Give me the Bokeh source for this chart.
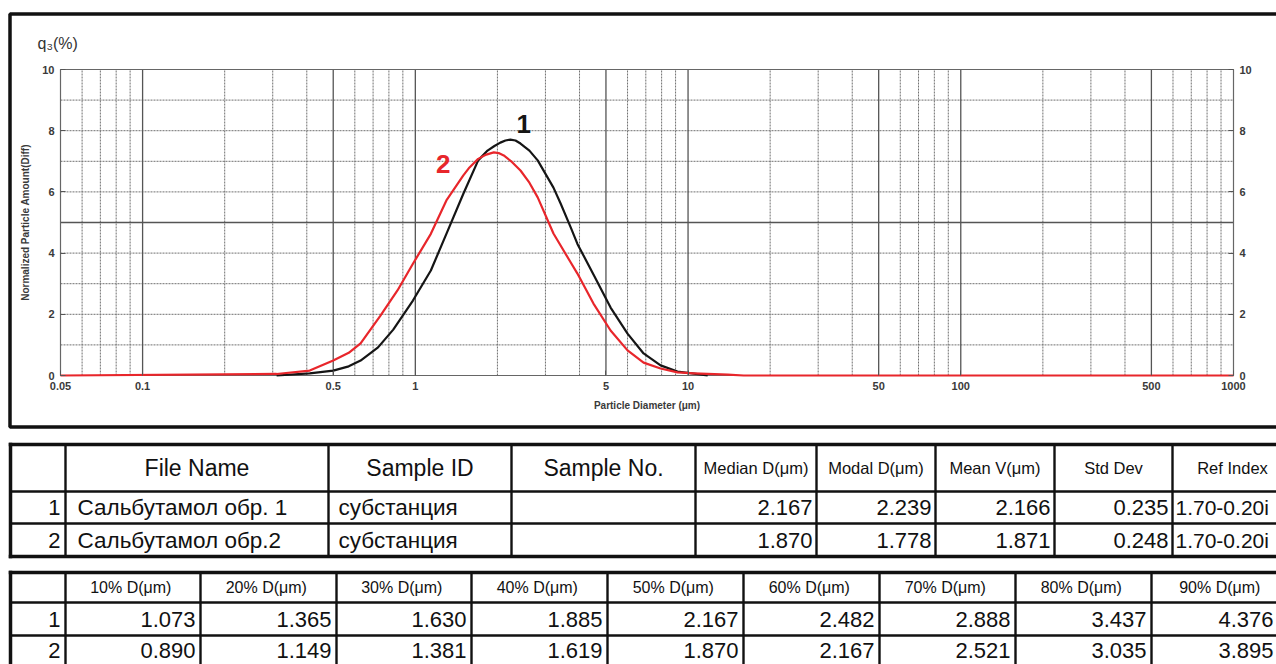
import math
from bokeh.plotting import figure
from bokeh.models import (Range1d, FixedTicker, LinearAxis, LogAxis, LinearScale)
from bokeh.core.properties import value
from bokeh.embed import file_html
from bokeh.resources import INLINE

FONT = "Liberation Sans"

# ---------------- data ----------------
# curve 1 (black): particle diameter (um) and q3 (%)
diam_1 = [0.31, 0.41, 0.50, 0.57, 0.63, 0.73, 0.83, 0.98, 1.14, 1.30, 1.50, 1.70,
          1.84, 1.95, 2.05, 2.14, 2.23, 2.33, 2.43, 2.62, 2.81, 3.21, 3.41, 3.71,
          3.93, 4.50, 5.20, 6.00, 6.87, 7.93, 9.15, 10.5, 11.8]
q3_1 = [0.00, 0.07, 0.16, 0.30, 0.49, 0.92, 1.50, 2.45, 3.43, 4.63, 5.94, 7.03,
        7.35, 7.50, 7.61, 7.68, 7.71, 7.68, 7.58, 7.35, 7.03, 6.14, 5.62, 4.85,
        4.30, 3.30, 2.22, 1.37, 0.72, 0.33, 0.13, 0.06, 0.00]

# curve 2 (red)
diam_2 = [0.05, 0.31, 0.41, 0.50, 0.57, 0.63, 0.745, 0.86, 0.98, 1.14, 1.30, 1.50,
          1.58, 1.70, 1.82, 1.94, 2.02, 2.11, 2.26, 2.43, 2.62, 2.81, 3.21, 3.71,
          3.93, 4.50, 5.20, 6.00, 6.87, 7.93, 9.15, 10.5, 14.0, 16.0, 1000]
q3_2 = [0.00, 0.05, 0.16, 0.49, 0.74, 1.05, 1.96, 2.78, 3.65, 4.63, 5.72, 6.54,
        6.80, 7.08, 7.22, 7.29, 7.27, 7.19, 6.98, 6.70, 6.30, 5.82, 4.64, 3.70,
        3.33, 2.35, 1.47, 0.82, 0.42, 0.23, 0.10, 0.07, 0.03, 0.00, 0.00]

curve_names = ["1", "2"]
curve_name_diam = [2.50, 1.266]
curve_name_q3 = [8.23, 6.92]

x_tick_values = [0.05, 0.1, 0.5, 1, 5, 10, 50, 100, 500, 1000]
x_tick_labels = ["0.05", "0.1", "0.5", "1", "5", "10", "50", "100", "500", "1000"]
y_tick_values = [0, 2, 4, 6, 8, 10]
x_major_grid = [0.1, 0.5, 1, 5, 10, 50, 100, 500]
x_minor_grid = [0.06, 0.07, 0.08, 0.09, 0.2, 0.3, 0.4, 0.6, 0.7, 0.8, 0.9,
                2, 3, 4, 6, 7, 8, 9, 20, 30, 40, 60, 70, 80, 90,
                200, 300, 400, 600, 700, 800, 900]
y_major_grid = [5]
y_minor_grid = [1, 2, 3, 4, 6, 7, 8, 9]

# table 1
t1_header = ["", "File Name", "Sample ID", "Sample No.", "Median D(μm)",
             "Modal D(μm)", "Mean V(μm)", "Std Dev", "Ref Index"]
sample_index = ["1", "2"]
file_names = ["Сальбутамол обр. 1", "Сальбутамол обр.2"]
sample_ids = ["субстанция", "субстанция"]
sample_nos = ["", ""]
median_d = ["2.167", "1.870"]
modal_d = ["2.239", "1.778"]
mean_v = ["2.166", "1.871"]
std_dev = ["0.235", "0.248"]
ref_index = ["1.70-0.20i", "1.70-0.20i"]

# table 2
t2_header = ["", "10%  D(μm)", "20%  D(μm)", "30%  D(μm)", "40%  D(μm)", "50%  D(μm)",
             "60%  D(μm)", "70%  D(μm)", "80%  D(μm)", "90%  D(μm)"]
pct_d_1 = ["1.073", "1.365", "1.630", "1.885", "2.167", "2.482", "2.888", "3.437", "4.376"]
pct_d_2 = ["0.890", "1.149", "1.381", "1.619", "1.870", "2.167", "2.521", "3.035", "3.895"]

# ---------------- layout (pixels) ----------------
W, H = 1276, 664
PL, PR, PT, PB = 60, 1233, 69, 375          # chart plot area
X0, X1 = x_tick_values[0], x_tick_values[-1]
Y0, Y1 = y_tick_values[0], y_tick_values[-1]
kx = (math.log10(X1) - math.log10(X0)) / (PR - PL)
x_lo = 10 ** (math.log10(X0) - kx * PL)
x_hi = 10 ** (math.log10(X1) + kx * (W - PR))
ky = (Y1 - Y0) / (PB - PT)
y_lo = Y0 - ky * (H - PB)
y_hi = Y1 + ky * PT

p = figure(width=W, height=H, x_axis_type="log", x_axis_location=None, y_axis_location=None,
           x_range=Range1d(x_lo, x_hi), y_range=Range1d(y_lo, y_hi),
           output_backend="svg", toolbar_location=None, min_border=0, title_location=None)
p.extra_x_ranges = {"px": Range1d(0, W)}
p.extra_y_ranges = {"py": Range1d(H, 0)}
p.extra_x_scales = {"px": LinearScale()}
p.extra_y_scales = {"py": LinearScale()}
p.outline_line_color = None
p.background_fill_color = "white"
p.border_fill_color = "white"
p.grid.visible = False

PX = dict(x_range_name="px", y_range_name="py")

# outer frame of the chart
p.quad(left=9.5, right=W + 30, top=13.5, bottom=426.5, fill_color=None,
       line_color="#111111", line_width=3.5, **PX)

# grid lines
p.segment(x0=x_minor_grid, y0=[Y0] * len(x_minor_grid), x1=x_minor_grid, y1=[Y1] * len(x_minor_grid),
          line_color="#707070", line_width=1, line_dash="2 1")
p.segment(x0=[X0] * len(y_minor_grid), y0=y_minor_grid, x1=[X1] * len(y_minor_grid), y1=y_minor_grid,
          line_color="#707070", line_width=1, line_dash="2 1")
p.segment(x0=x_major_grid, y0=[Y0] * len(x_major_grid), x1=x_major_grid, y1=[Y1] * len(x_major_grid),
          line_color="#555555", line_width=1.3)
p.segment(x0=[X0] * len(y_major_grid), y0=y_major_grid, x1=[X1] * len(y_major_grid), y1=y_major_grid,
          line_color="#555555", line_width=1.3)
p.quad(left=X0, right=X1, bottom=Y0, top=Y1, fill_color=None, line_color="#666666", line_width=1.2)

# curves
p.line(diam_1, q3_1, line_color="#151515", line_width=2.2, line_join="round")
p.line(diam_2, q3_2, line_color="#e8262b", line_width=2.2, line_join="round")
p.text(x=curve_name_diam, y=curve_name_q3, text=curve_names,
       text_color=["#151515", "#e8262b"], text_font=value(FONT), text_font_size="26px",
       text_font_style="bold", text_align="center", text_baseline="middle")

# axes (fixed on the plot-area edges)
xa = LogAxis(fixed_location=Y0, bounds=(X0, X1), ticker=FixedTicker(ticks=x_tick_values),
             axis_label="Particle Diameter (μm)")
xa.major_label_overrides = {v: s for v, s in zip(x_tick_values, x_tick_labels)}
ya = LinearAxis(fixed_location=X0, bounds=(Y0, Y1), ticker=FixedTicker(ticks=y_tick_values),
                axis_label="Normalized Particle Amount(Diff)")
ra = LinearAxis(fixed_location=X1, bounds=(Y0, Y1), ticker=FixedTicker(ticks=y_tick_values))
for ax in (xa, ya, ra):
    ax.axis_line_color = None
    ax.major_tick_in = 5
    ax.major_tick_out = 0
    ax.major_tick_line_color = "#555555"
    ax.minor_tick_line_color = None
    ax.major_label_text_font = FONT
    ax.major_label_text_font_size = "11px"
    ax.major_label_text_font_style = "bold"
    ax.major_label_text_color = "#3a3a3a"
    ax.major_label_standoff = 6
    ax.axis_label_text_font = FONT
    ax.axis_label_text_font_size = "10px"
    ax.axis_label_text_font_style = "bold"
    ax.axis_label_text_color = "#3a3a3a"
xa.axis_label_standoff = 7
ya.axis_label_standoff = 8
p.add_layout(xa, "below")
p.add_layout(ya, "left")
p.add_layout(ra, "right")

# y title
p.text(x=[37], y=[43], text=["q₃(%)"], text_font=value(FONT), text_font_size="16px",
       text_color="#333333", text_align="left", text_baseline="middle", **PX)

# ---------------- tables ----------------
t1_cols = [10, 65, 328, 511, 695, 816, 935, 1054, 1172, 1292]
t1_rows = [444, 491, 523, 556]
t2_cols = [10, 65, 200, 336, 471, 607, 743, 879, 1015, 1151, 1292]
t2_rows = [572, 602, 635, 668]

def grid_segments(cols, rows):
    thick, thin = ([], [], [], []), ([], [], [], [])
    for i, y in enumerate(rows):
        tgt = thick if i in (0, len(rows) - 1) else thin
        tgt[0].append(cols[0]); tgt[1].append(y); tgt[2].append(cols[-1]); tgt[3].append(y)
    for i, x in enumerate(cols):
        tgt = thick if i in (0, len(cols) - 1) else thin
        tgt[0].append(x); tgt[1].append(rows[0]); tgt[2].append(x); tgt[3].append(rows[-1])
    return thick, thin

for cols, rows in ((t1_cols, t1_rows), (t2_cols, t2_rows)):
    thick, thin = grid_segments(cols, rows)
    p.segment(*thin, line_color="#111111", line_width=2.4, **PX)
    p.segment(*thick, line_color="#111111", line_width=3.5, line_cap="square", **PX)

def mid(a, b):
    return (a + b) / 2

def txt(xs, ys, texts, align, size):
    p.text(x=xs, y=ys, text=texts, text_align=align, text_baseline="middle",
           text_font=value(FONT), text_font_size=size, text_color="#111111", **PX)

# table 1 header
h1y = mid(t1_rows[0], t1_rows[1])
big_idx = [1, 2, 3]
small_idx = [4, 5, 6, 7, 8]
txt([mid(t1_cols[i], t1_cols[i + 1]) for i in big_idx], [h1y] * 3,
    [t1_header[i] for i in big_idx], "center", "23px")
txt([mid(t1_cols[i], t1_cols[i + 1]) for i in small_idx], [h1y] * 5,
    [t1_header[i] for i in small_idx], "center", "16.5px")

# table 1 rows
r1y = [mid(t1_rows[1], t1_rows[2]), mid(t1_rows[2], t1_rows[3])]
txt([t1_cols[1] - 5] * 2, r1y, sample_index, "right", "22px")
txt([t1_cols[1] + 12] * 2, r1y, file_names, "left", "22.5px")
txt([t1_cols[2] + 10] * 2, r1y, sample_ids, "left", "22.5px")
txt([t1_cols[3] + 10] * 2, r1y, sample_nos, "left", "22.5px")
for ci, vals in zip((5, 6, 7, 8), (median_d, modal_d, mean_v, std_dev)):
    txt([t1_cols[ci] - 4] * 2, r1y, vals, "right", "22px")
txt([t1_cols[8] + 3] * 2, r1y, ref_index, "left", "21px")

# table 2
h2y = mid(t2_rows[0], t2_rows[1])
txt([mid(t2_cols[i], t2_cols[i + 1]) for i in range(1, 10)], [h2y] * 9,
    t2_header[1:], "center", "16px")
r2y = [mid(t2_rows[1], t2_rows[2]), mid(t2_rows[2], t2_rows[3]) - 2]
txt([t2_cols[1] - 5] * 2, r2y, sample_index, "right", "22px")
for j in range(8):
    txt([t2_cols[j + 2] - 5] * 2, r2y, [pct_d_1[j], pct_d_2[j]], "right", "22px")
txt([W - 3] * 2, r2y, [pct_d_1[8], pct_d_2[8]], "right", "22px")

open("out.html", "w").write(file_html(p, INLINE))
